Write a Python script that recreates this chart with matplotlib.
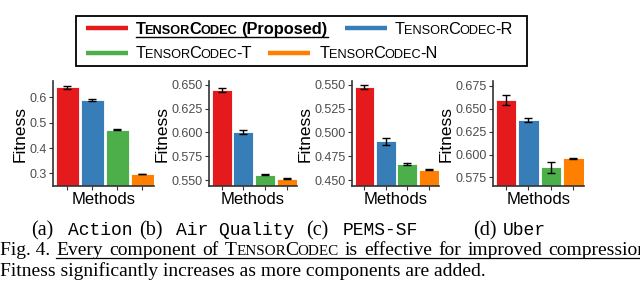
import numpy as np
import matplotlib
matplotlib.use("Agg")
import matplotlib.pyplot as plt
from matplotlib.lines import Line2D
from matplotlib.patches import Rectangle

W, H = 640, 283

METHODS = ["TensorCodec (Proposed)", "TensorCodec-R", "TensorCodec-T", "TensorCodec-N"]
COLORS = ["#E41A1C", "#377EB8", "#4DAF4A", "#FF7F00"]

DATASETS = ["Action", "Air Quality", "PEMS-SF", "Uber"]
TAGS = ["(a)", "(b)", "(c)", "(d)"]

fit_action = [0.640, 0.589, 0.472, 0.297]
err_action = [0.007, 0.005, 0.002, 0.001]
fit_air = [0.6447, 0.6003, 0.5555, 0.5515]
err_air = [0.0022, 0.0018, 0.0005, 0.0004]
fit_pems = [0.5478, 0.4905, 0.4670, 0.4608]
err_pems = [0.0018, 0.0035, 0.0012, 0.0003]
fit_uber = [0.6595, 0.6378, 0.5862, 0.5960]
err_uber = [0.0058, 0.0017, 0.0060, 0.0004]

FITS = [fit_action, fit_air, fit_pems, fit_uber]
ERRS = [err_action, err_air, err_pems, err_uber]

YTICKS = [[0.3, 0.4, 0.5, 0.6],
          [0.55, 0.575, 0.6, 0.625, 0.65],
          [0.45, 0.475, 0.5, 0.525, 0.55],
          [0.575, 0.6, 0.625, 0.65, 0.675]]
TICK_FMT = ["{:.1f}", "{:.3f}", "{:.3f}", "{:.3f}"]
YLIMS = [(0.25, 0.665), (0.5437, 0.654), (0.4437, 0.554), (0.5656, 0.6804)]

CAPTION1 = ["Every", "component", "of", "TensorCodec", "is", "effective", "for",
            "improved", "compression."]
CAPTION2 = "Fitness significantly increases as more components are added."

SANS = "Liberation Sans"
SERIF = "Liberation Serif"
MONO = "Liberation Mono"

fig = plt.figure(figsize=(W / 100, H / 100), dpi=100)
renderer = fig.canvas.get_renderer()


def text_w(s, **kw):
    t = fig.text(0, 0, s, **kw)
    w = t.get_window_extent(renderer).width
    t.remove()
    return w


def space_w(**kw):
    return text_w("a a", **kw) - text_w("aa", **kw)


def put_runs(x, y, runs, extra=0.0, kern=0.0):
    # runs: list of (string, props); " " runs become measured gaps (+extra)
    prev_word = False
    for s, kw in runs:
        if s == " ":
            x += space_w(**kw) + extra
            prev_word = False
            continue
        if prev_word:
            x += kern
        t = fig.text(x / W, 1 - y / H, s, va="baseline", ha="left", **kw)
        x += t.get_window_extent(renderer).width
        prev_word = True
    return x


def smallcaps(word, size, ratio=0.78, **kw):
    runs = []
    i = 0
    while i < len(word):
        low = word[i].islower()
        j = i
        while j < len(word) and word[j].islower() == low:
            j += 1
        chunk = word[i:j]
        if low:
            runs.append((chunk.upper(), dict(fontsize=size * ratio, **kw)))
        else:
            runs.append((chunk, dict(fontsize=size, **kw)))
        i = j
    return runs


def hline(x0, x1, y, lw=0.9, color="black"):
    fig.add_artist(Line2D([x0 / W, x1 / W], [1 - y / H, 1 - y / H],
                          transform=fig.transFigure, color=color, lw=lw))


# --- legend box ---
fig.add_artist(Rectangle((76 / W, 1 - 66 / H), (527 - 76) / W, (66 - 16) / H,
                         transform=fig.transFigure, fill=False,
                         edgecolor="black", lw=1.3))
LEG_SIZE = 11.8
leg_pos = [(86, 28, 135.5, 34), (345, 28, 395, 34),
           (86, 53, 135.5, 57.5), (268, 53, 320, 57.5)]
for k, (lx, ly, tx, ty) in enumerate(leg_pos):
    fig.add_artist(Line2D([lx / W, (lx + 42) / W], [1 - ly / H, 1 - ly / H],
                          transform=fig.transFigure, color=COLORS[k], lw=3.2,
                          solid_capstyle="butt"))
    name, _, rest = METHODS[k].partition(" ")
    base = name.split("-")[0]
    suffix = name[len(base):]
    if k == 0:
        kw = dict(family=SANS, weight="bold", color="black")
        runs = smallcaps(base, LEG_SIZE, **kw)
        runs += [(" ", dict(fontsize=LEG_SIZE, **kw)), (rest, dict(fontsize=LEG_SIZE, **kw))]
        x_end = put_runs(tx, ty, runs, kern=-0.8)
        hline(tx, x_end, ty + 2.5, lw=1.0)
    else:
        kw = dict(family=SANS, color="black")
        runs = smallcaps(base, LEG_SIZE, **kw) + [(suffix, dict(fontsize=LEG_SIZE, **kw))]
        put_runs(tx, ty, runs, kern=-0.8)

# --- panels ---
AX_X = [(53, 154), (209, 297), (352, 439), (493, 584)]
AX_TOP, AX_BOT = 81, 186
xpos = np.arange(1, 5)
for k in range(4):
    x0, x1 = AX_X[k]
    ax = fig.add_axes([x0 / W, 1 - AX_BOT / H, (x1 - x0) / W, (AX_BOT - AX_TOP) / H])
    ax.bar(xpos, FITS[k], width=0.92, color=COLORS, edgecolor="white", linewidth=0.6)
    ax.errorbar(xpos, FITS[k], yerr=ERRS[k], fmt="none", ecolor="black",
                elinewidth=1.0, capsize=2.6, capthick=1.0)
    ax.set_xlim(0.42, 4.48)
    ax.set_ylim(*YLIMS[k])
    ax.set_yticks(YTICKS[k])
    ax.set_yticklabels([TICK_FMT[k].format(v) for v in YTICKS[k]])
    ax.set_xticks(xpos)
    ax.set_xticklabels([])
    for side in ["top", "right"]:
        ax.spines[side].set_visible(False)
    for side in ["left", "bottom"]:
        ax.spines[side].set_color("#333333")
        ax.spines[side].set_linewidth(1.2)
    ax.tick_params(axis="both", length=3, width=0.8, color="#333333",
                   labelcolor="#4D4D4D", labelsize=9, pad=1.5)
    for lab in ax.get_yticklabels():
        lab.set_family(SANS)
    ax.set_ylabel("Fitness", family=SANS, fontsize=12.5, labelpad=1.5)
    ax.set_xlabel("Methods", family=SANS, fontsize=12, labelpad=0)
    ax.set_facecolor("white")

# --- sub-captions ---
SUB_X = [(31, 67.5), (139, 176.5), (306.5, 343), (473, 503)]
for k in range(4):
    tx, dx = SUB_X[k]
    fig.text(tx / W, 1 - 235 / H, TAGS[k], family=SERIF, fontsize=14.5,
             va="baseline", ha="left")
    fig.text(dx / W, 1 - 235 / H, DATASETS[k], family=MONO, fontsize=13.0,
             va="baseline", ha="left")

# --- figure caption (line 1 justified, so wider word gaps) ---
CAP = 14.0
ckw = dict(family=SERIF, color="black", fontsize=CAP)
x = put_runs(0, 255, [("Fig. 4.", ckw), (" ", ckw)], extra=1.4)
u0 = x
runs = []
for i, word in enumerate(CAPTION1):
    if i:
        runs.append((" ", ckw))
    if word == "TensorCodec":
        runs += smallcaps(word, CAP, family=SERIF, color="black")
    else:
        runs.append((word, ckw))
x_end = put_runs(u0, 255, runs, extra=1.4, kern=-0.8)
hline(u0, x_end, 258.3, lw=0.9)
put_runs(0, 275.5, [(CAPTION2, ckw)])

fig.savefig("out.png", dpi=100)
